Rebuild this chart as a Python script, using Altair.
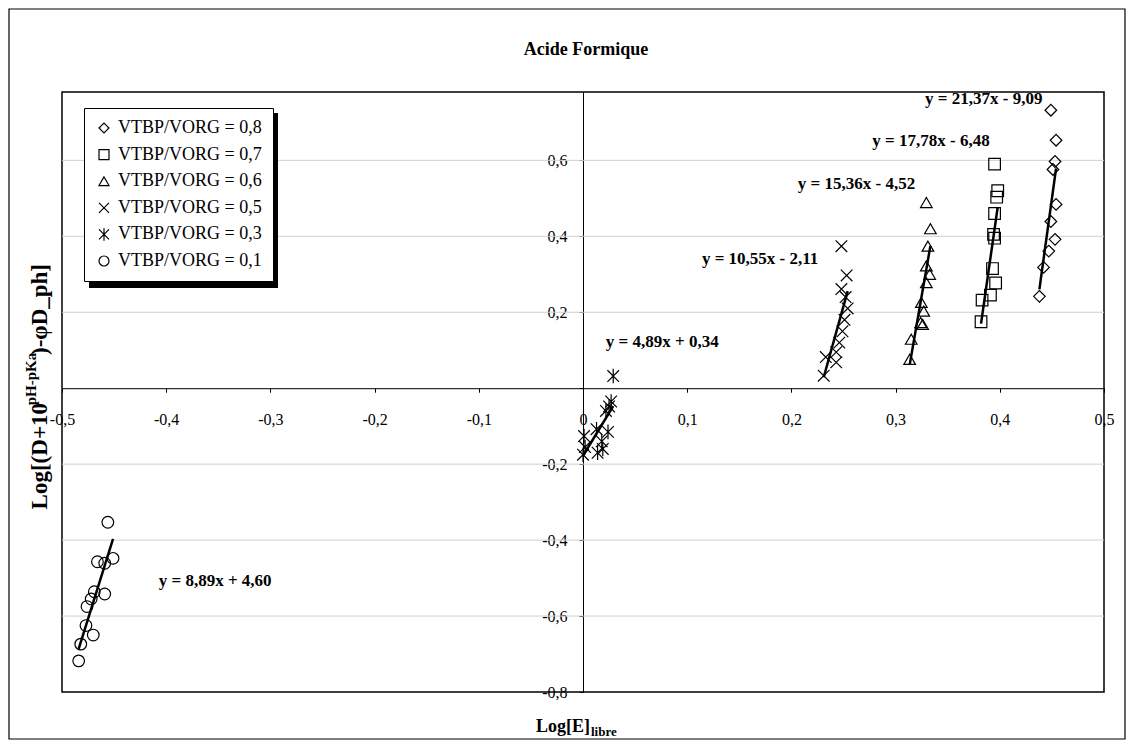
import altair as alt
import pandas as pd

# ---------------- data ----------------
series_names = ["VTBP/VORG = 0,8", "VTBP/VORG = 0,7", "VTBP/VORG = 0,6",
                "VTBP/VORG = 0,5", "VTBP/VORG = 0,3", "VTBP/VORG = 0,1"]

x08 = [0.449, 0.454, 0.453, 0.451, 0.454, 0.449, 0.453, 0.447, 0.442, 0.438]
y08 = [0.732, 0.653, 0.597, 0.576, 0.484, 0.439, 0.392, 0.361, 0.318, 0.242]

x07 = [0.395, 0.398, 0.397, 0.395, 0.394, 0.395, 0.393, 0.396, 0.391, 0.383, 0.382]
y07 = [0.590, 0.520, 0.503, 0.460, 0.405, 0.395, 0.315, 0.277, 0.245, 0.232, 0.175]

x06 = [0.3295, 0.3334, 0.331, 0.3295, 0.3327, 0.3295, 0.3247, 0.327, 0.324, 0.326, 0.315, 0.3135]
y06 = [0.489, 0.420, 0.374, 0.322, 0.300, 0.278, 0.226, 0.203, 0.173, 0.168, 0.129, 0.076]

x05 = [0.248, 0.253, 0.248, 0.252, 0.254, 0.251, 0.249, 0.246, 0.243, 0.233, 0.243, 0.231]
y05 = [0.374, 0.297, 0.261, 0.240, 0.210, 0.180, 0.150, 0.120, 0.095, 0.082, 0.068, 0.033]

x03 = [0.029, 0.027, 0.025, 0.022, 0.013, 0.024, 0.001, 0.018, 0.002, 0.014, 0.000, 0.019]
y03 = [0.032, -0.035, -0.048, -0.060, -0.108, -0.115, -0.126, -0.140, -0.155, -0.170, -0.175, -0.160]

x01 = [-0.456, -0.451, -0.466, -0.459, -0.469, -0.459, -0.472, -0.476, -0.477, -0.470, -0.482, -0.484]
y01 = [-0.353, -0.448, -0.457, -0.461, -0.536, -0.542, -0.555, -0.575, -0.625, -0.650, -0.674, -0.718]

eq_labels = ["y = 21,37x - 9,09", "y = 17,78x - 6,48", "y = 15,36x - 4,52",
             "y = 10,55x - 2,11", "y = 4,89x + 0,34", "y = 8,89x + 4,60"]
eq_x = [0.3846, 0.334, 0.2625, 0.170, 0.076, -0.353]
eq_y = [0.7605, 0.650, 0.539, 0.339, 0.121, -0.508]

x_ticks = [-0.5, -0.4, -0.3, -0.2, -0.1, 0.0, 0.1, 0.2, 0.3, 0.4, 0.5]
y_ticks = [-0.8, -0.6, -0.4, -0.2, 0.0, 0.2, 0.4, 0.6]
grid_vals = [-0.6, -0.4, -0.2, 0.2, 0.4, 0.6]

# ---------------- build table ----------------
xs_all = [x08, x07, x06, x05, x03, x01]
ys_all = [y08, y07, y06, y05, y03, y01]
rows = []
for name, xs, ys in zip(series_names, xs_all, ys_all):
    for a, b in zip(xs, ys):
        rows.append({"series": name, "x": a, "y": b})
df = pd.DataFrame(rows)
df_eq = pd.DataFrame({"label": eq_labels, "ex": eq_x, "ey": eq_y})
df_grid = pd.DataFrame({"g": grid_vals})

FONT = "Liberation Serif"
W, H = 1042, 600
XMIN, XMAX = -0.5, 0.5
YMIN, YMAX = -0.8, 0.78

x0_px = W * (0 - XMIN) / (XMAX - XMIN)
y0_from_bottom = H * (0 - YMIN) / (YMAX - YMIN)

num_expr = "replace(replace(format(datum.value, '.1f'), '.', ','), '\u2212', '-')"

xscale = alt.Scale(domain=[XMIN, XMAX], nice=False, zero=False)
yscale = alt.Scale(domain=[YMIN, YMAX], nice=False, zero=False)

xaxis = alt.Axis(values=x_ticks, title=None, grid=False, orient="bottom",
                 offset=-y0_from_bottom, domainColor="black", domainWidth=1,
                 tickColor="black", tickSize=4, labelPadding=19,
                 labelFlush=False,
                 labelFont=FONT, labelFontSize=16, labelColor="black",
                 labelExpr="datum.value == 0 ? '0' : " + num_expr)
yaxis = alt.Axis(values=y_ticks, title=None, grid=False, orient="left",
                 offset=-x0_px, domainColor="black", domainWidth=1,
                 tickColor="black", tickSize=4, labelPadding=12,
                 labelFlush=False,
                 labelFont=FONT, labelFontSize=16, labelColor="black",
                 labelExpr="datum.value == 0 ? '' : " + num_expr)

X = alt.X("x:Q", scale=xscale, axis=xaxis)
Y = alt.Y("y:Q", scale=yscale, axis=yaxis)

shape_range = [
    "diamond",
    "square",
    "triangle-up",
    "M-1,-1L1,1M-1,1L1,-1",
    "M-1,-1L1,1M-1,1L1,-1M0,-1.25L0,1.25",
    "circle",
]

grid = alt.Chart(df_grid).mark_rule(color="#cfcfcf", strokeWidth=1).encode(
    y=alt.Y("g:Q", scale=yscale, axis=yaxis),
    x=alt.value(0), x2=alt.value(W),
)

# legend shadow (decoration behind the legend box)
shadow = alt.Chart(df_grid).mark_rect(color="black").encode(
    x=alt.value(27), x2=alt.value(216), y=alt.value(21), y2=alt.value(196)
)

points = alt.Chart(df).mark_point(filled=False, color="black", strokeWidth=1.2,
                                  size=135, opacity=1).encode(
    x=X, y=Y,
    shape=alt.Shape("series:N",
                    scale=alt.Scale(domain=series_names, range=shape_range),
                    legend=alt.Legend(title=None, orient="none", legendX=22, legendY=16,
                                      strokeColor="black", fillColor="white",
                                      padding=11, rowPadding=8.6,
                                      labelFont=FONT, labelFontSize=18,
                                      labelColor="black", labelOffset=5,
                                      symbolSize=100, symbolStrokeColor="black",
                                      symbolStrokeWidth=1.2,
                                      symbolFillColor="transparent")),
)

trend = alt.Chart(df).transform_regression(
    "x", "y", groupby=["series"]
).mark_line(color="black", strokeWidth=2.5).encode(
    x=X, y=Y, detail="series:N"
)

eqs = alt.Chart(df_eq).mark_text(font=FONT, fontWeight="bold", fontSize=17,
                                 color="black", align="center", baseline="middle").encode(
    x=alt.X("ex:Q", scale=xscale, axis=xaxis),
    y=alt.Y("ey:Q", scale=yscale, axis=yaxis),
    text="label:N",
)

title_df = pd.DataFrame({"t": ["Acide Formique"]})
title = alt.Chart(title_df).mark_text(font=FONT, fontWeight="bold", fontSize=18,
                                      color="black", align="center",
                                      baseline="middle").encode(
    x=alt.value(524), y=alt.value(-42), text="t:N")

# x-axis title with subscript
xt1 = alt.Chart(pd.DataFrame({"t": ["Log[E]"]})).mark_text(
    font=FONT, fontWeight="bold", fontSize=18, color="black",
    align="right", baseline="alphabetic").encode(
    x=alt.value(528), y=alt.value(640), text="t:N")
xt2 = alt.Chart(pd.DataFrame({"t": ["libre"]})).mark_text(
    font=FONT, fontWeight="bold", fontSize=13, color="black",
    align="left", baseline="alphabetic").encode(
    x=alt.value(529), y=alt.value(644), text="t:N")

# y-axis title with superscript (rotated)
yt1 = alt.Chart(pd.DataFrame({"t": ["Log[(D+10"]})).mark_text(
    font=FONT, fontWeight="bold", fontSize=23, color="black", angle=270,
    align="right", baseline="middle").encode(
    x=alt.value(-22), y=alt.value(311), text="t:N")
yt2 = alt.Chart(pd.DataFrame({"t": ["pH-pKa"]})).mark_text(
    font=FONT, fontWeight="bold", fontSize=15, color="black", angle=270,
    align="center", baseline="middle").encode(
    x=alt.value(-31), y=alt.value(287), text="t:N")
yt3 = alt.Chart(pd.DataFrame({"t": [")-\u03c6D_ph]"]})).mark_text(
    font=FONT, fontWeight="bold", fontSize=23, color="black", angle=270,
    align="left", baseline="middle").encode(
    x=alt.value(-22), y=alt.value(263), text="t:N")

# outer chart border
border = alt.Chart(title_df).mark_rect(fill="transparent", stroke="black",
                                       strokeWidth=1.2).encode(
    x=alt.value(-53), x2=alt.value(W + 21), y=alt.value(-83), y2=alt.value(H + 47))

chart = alt.layer(
    grid, shadow, trend, points, eqs, title, xt1, xt2, yt1, yt2, yt3, border
).properties(
    width=W, height=H,
    autosize=alt.AutoSizeParams(type="none"),
    padding={"left": 54, "top": 84, "right": 23, "bottom": 49},
    background="white",
).configure_view(stroke="black", strokeWidth=1.5)

chart.save("out.html", embed_options={"renderer": "svg", "actions": False})
